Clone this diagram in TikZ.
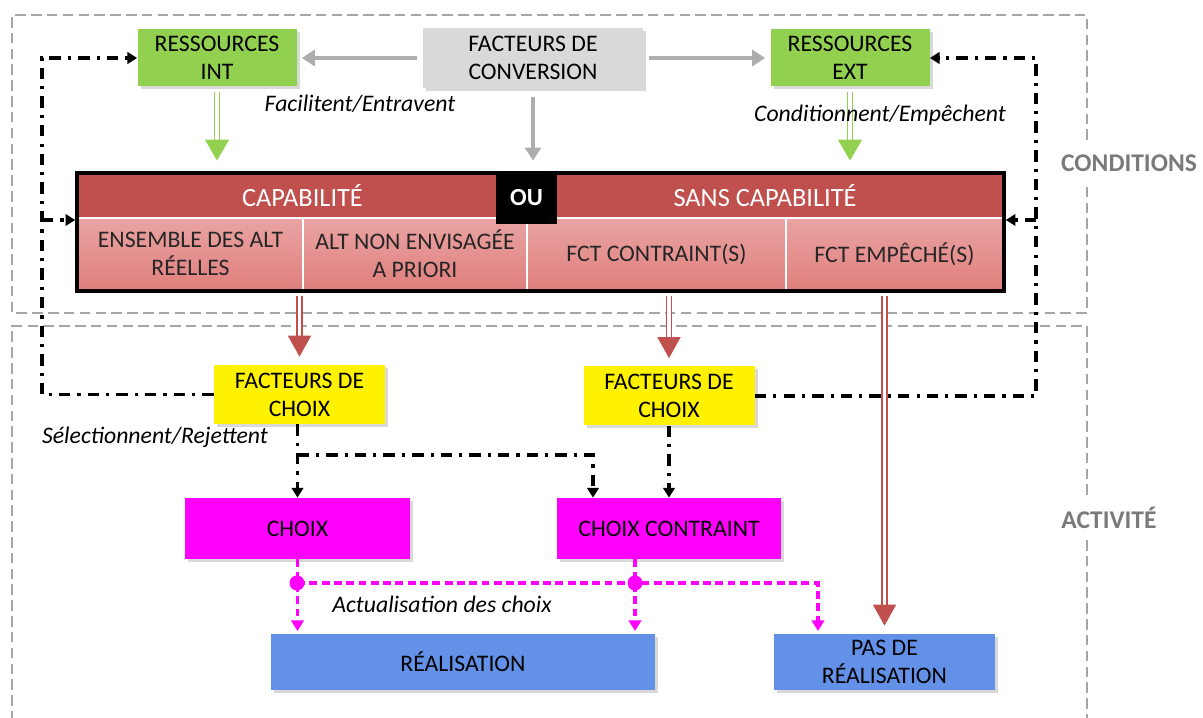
\documentclass[tikz,border=0pt]{standalone}
\usepackage{fontspec}
\setmainfont{Carlito}
\usepackage{xcolor}
\usetikzlibrary{arrows.meta,shadows,fit}

\definecolor{resgreen}{HTML}{92D050}
\definecolor{convgray}{HTML}{D9D9D9}
\definecolor{capred}{HTML}{C0504D}
\definecolor{altpinktop}{HTML}{E9A4A3}
\definecolor{altpinkbot}{HTML}{E07F7D}
\definecolor{choixmagenta}{HTML}{FF00FF}
\definecolor{realblue}{HTML}{6391E8}
\definecolor{arrowgray}{HTML}{ADADAD}
\definecolor{zonegray}{HTML}{A6A6A6}
\definecolor{labelgray}{HTML}{7A7A7A}

\begin{document}
\begin{tikzpicture}[
    font=\fontsize{13.5}{16}\selectfont,
    box/.style={rectangle, align=center, inner sep=0pt, drop shadow={opacity=0.3, shadow xshift=0.06cm, shadow yshift=-0.06cm}},
    ressource/.style={box, fill=resgreen, minimum width=3.18cm, minimum height=1.14cm},
    facteur/.style={box, fill=yellow, minimum width=3.42cm, minimum height=1.18cm},
    choixbox/.style={box, fill=choixmagenta, minimum width=4.5cm, minimum height=1.22cm},
    realbox/.style={box, fill=realblue, minimum height=1.12cm},
    entete/.style={rectangle, fill=capred, text=white, font=\fontsize{15}{18}\selectfont, minimum height=0.9cm, inner sep=0pt},
    alt/.style={rectangle, top color=altpinktop, bottom color=altpinkbot, draw=white, line width=0.8pt, text=black!85, minimum height=1.44cm, align=center, inner sep=0pt},
    zone/.style={draw=zonegray, line width=1.2pt, dash pattern=on 6pt off 3pt},
    zonelabel/.style={text=labelgray, font=\fontsize{14.5}{17}\selectfont\bfseries},
    verbe/.style={font=\fontsize{13.5}{16}\selectfont\itshape},
    grisarrow/.style={draw=arrowgray, line width=2.2pt, -{Triangle[width=0.32cm,length=0.26cm]}, shorten >=0.1cm, shorten <=0.12cm},
    vertarrow/.style={draw=resgreen, double=white, double distance=2pt, line width=0.9pt, -{Triangle[width=0.48cm,length=0.42cm]}},
    rougearrow/.style={draw=capred, double=white, double distance=2pt, line width=0.9pt, -{Triangle[width=0.46cm,length=0.42cm]}},
    fb/.style={draw=black, line width=1.8pt, dash pattern=on 6.5pt off 4pt on 1.8pt off 4pt, -{Triangle[width=6.5pt,length=5.5pt]}},
    act/.style={draw=choixmagenta, line width=2pt, dash pattern=on 4.5pt off 2.5pt, -{Triangle[width=7pt,length=6pt]}, shorten >=1.5pt}
]
\useasboundingbox (0,0) rectangle (24.06,-14.36);

% Zones
\draw[zone] (21.74,-2.8) -- (21.74,-0.3) -- (0.24,-0.3) -- (0.24,-6.26) -- (21.74,-6.26) -- (21.74,-3.7);
\draw[zone] (21.74,-9.9) -- (21.74,-6.52) -- (0.24,-6.52) -- (0.24,-14.36);
\draw[zone] (21.74,-10.8) -- (21.74,-14.36);
\node[zonelabel] (conditions) at (22.58,-3.26) {CONDITIONS};
\node[zonelabel] (activite) at (22.18,-10.36) {ACTIVITÉ};

% Ressources et facteurs de conversion
\node[ressource] (rint) at (4.34,-1.16) {RESSOURCES\\INT};
\node[box, fill=convgray, minimum width=4.4cm, minimum height=1.2cm] (conv) at (10.66,-1.16) {FACTEURS DE\\CONVERSION};
\node[ressource] (rext) at (17.0,-1.16) {RESSOURCES\\EXT};

% Tableau des capabilites
\node[entete, minimum width=8.98cm] (capa) at (6.05,-3.91) {CAPABILITÉ};
\node[entete, minimum width=9.52cm] (sans) at (15.3,-3.91) {SANS CAPABILITÉ};
\node[alt, minimum width=4.5cm] (alt1) at (3.81,-5.08) {ENSEMBLE DES ALT\\RÉELLES};
\node[alt, minimum width=4.48cm] (alt2) at (8.3,-5.08) {ALT NON ENVISAGÉE\\A PRIORI};
\node[alt, minimum width=5.18cm] (alt3) at (13.13,-5.08) {FCT CONTRAINT(S)};
\node[alt, minimum width=4.34cm] (alt4) at (17.89,-5.08) {FCT EMPÊCHÉ(S)};
\node[fit=(capa)(sans)(alt1)(alt4), draw=black, line width=2.4pt, inner sep=0pt] (cadre) {};
\node[fill=black, text=white, font=\fontsize{14}{17}\selectfont\bfseries, minimum width=1.22cm, minimum height=1.04cm, inner sep=0pt] (ou) at (10.53,-3.96) {OU};

% Facteurs de choix
\node[facteur] (fc1) at (5.99,-7.89) {FACTEURS DE\\CHOIX};
\node[facteur] (fc2) at (13.38,-7.92) {FACTEURS DE\\CHOIX};
\node[verbe] (selection) at (3.1,-8.74) {Sélectionnent/Rejettent};

% Choix
\node[choixbox] (choix) at (5.95,-10.57) {CHOIX};
\node[choixbox, minimum width=4.48cm] (choixc) at (13.38,-10.57) {CHOIX CONTRAINT};

% Realisation
\node[realbox, minimum width=7.68cm] (real) at (9.26,-13.24) {RÉALISATION};
\node[realbox, minimum width=4.42cm] (pas) at (17.69,-13.24) {PAS DE\\RÉALISATION};
\node[verbe] (actualisation) at (8.84,-12.08) {Actualisation des choix};

% Arrows
\draw[grisarrow] (conv.west) -- (rint.east);
\draw[grisarrow] (conv.east) -- (rext.west);
\draw[grisarrow, shorten <=0.18cm, shorten >=0.2cm] (conv.south) -- (conv.south |- cadre.north);
\draw[vertarrow, shorten <=0.1cm, shorten >=0.2cm] (rint.south) -- (rint.south |- cadre.north);
\draw[vertarrow, shorten <=0.1cm, shorten >=0.2cm] (rext.south) -- (rext.south |- cadre.north);

\node[verbe] (facilitent) at (7.2,-2.08) {Facilitent/Entravent};
\node[verbe] (conditionnent) at (17.6,-2.3) {Conditionnent/Empêchent};

\draw[rougearrow, shorten <=2pt, shorten >=0.16cm] (cadre.south -| fc1.north) -- (fc1.north);
\draw[rougearrow, shorten <=2pt, shorten >=0.16cm] (cadre.south -| fc2.north) -- (fc2.north);
\draw[rougearrow, shorten <=2pt, shorten >=0.16cm] (cadre.south -| pas.north) -- (pas.north);

% Retours des facteurs de choix
\coordinate (gauche) at (0.84,-4.4);
\coordinate (droite) at (20.72,-4.4);
\draw[fb] (fc1.west) -| (gauche |- rint.west) -- (rint.west);
\draw[fb] (gauche) -- (gauche -| cadre.west);
\draw[fb] (fc2.east) -| (droite |- rext.east) -- (rext.east);
\draw[fb] (droite) -- (droite -| cadre.east);

% Selection des choix
\coordinate (embranch) at (5.95,-9.1);
\draw[fb] (choix.north |- fc1.south) -- (choix.north);
\draw[fb] (embranch) -| ([xshift=-1.52cm]choixc.north);
\draw[fb] (fc2.south) -- (choixc.north);

% Actualisation des choix
\coordinate (dot1) at (5.94,-11.66);
\coordinate (dot2) at (12.7,-11.66);
\draw[act] (choix.south) -- (choix.south |- real.north);
\draw[act] (dot1) -| ([xshift=-1.33cm]pas.north);
\draw[act] (dot2 |- choixc.south) -- (dot2 |- real.north);
\fill[choixmagenta] (dot1) circle (0.15cm);
\fill[choixmagenta] (dot2) circle (0.15cm);

\end{tikzpicture}
\end{document}
